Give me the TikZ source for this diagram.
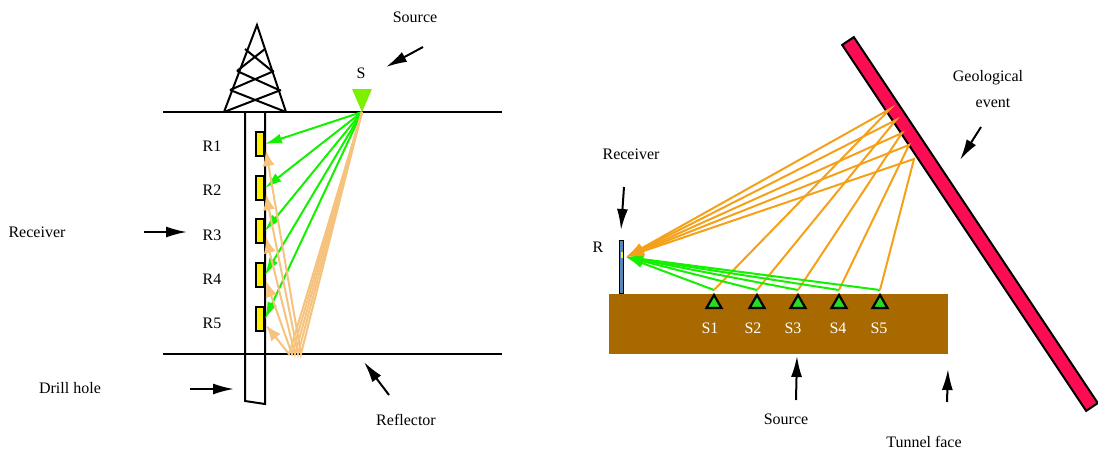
\documentclass[tikz,border=0pt]{standalone}
\usepackage{fontspec}
\setmainfont{Liberation Serif}
\usetikzlibrary{positioning,arrows.meta,calc}

\definecolor{direct}{RGB}{20,240,0}
\definecolor{bounce}{RGB}{245,195,125}
\definecolor{echo}{RGB}{245,160,25}
\definecolor{rock}{RGB}{168,106,0}
\definecolor{fault}{RGB}{252,12,82}
\definecolor{shot}{RGB}{125,240,0}
\definecolor{geo}{RGB}{35,220,35}
\definecolor{probe}{RGB}{85,135,185}

\begin{document}
\begin{tikzpicture}[
x=1pt,y=-1pt,
every node/.style={font=\fontsize{16}{18}\selectfont},
thickline/.style={line width=2pt},
pointer/.style={-{Latex[length=21pt,width=11pt]},line width=2pt},
recv/.style={draw,line width=1.8pt,fill=yellow,minimum width=8pt,minimum height=24pt,inner sep=0pt},
directray/.style={direct,line width=2pt,-{Latex[length=17pt,width=10pt]}},
bounceray/.style={bounce,line width=2pt,-{Latex[length=16pt,width=12pt]}},
echoray/.style={echo,line width=2pt,-{Latex[length=18pt,width=11pt]}},
shotmark/.style={draw,line width=2.2pt,fill=geo}
]
\useasboundingbox (0,0) rectangle (1098,450);

% ---- borehole survey ----
% derrick
\draw[thickline] (224,112) -- (257,25) -- (286,112);
\draw[thickline] (245,49) -- (272,71) (265,49) -- (237,71)
  (237,71) -- (279,90) (274,71) -- (230,90)
  (230,90) -- (286,112) (281,90) -- (224,112);

% surface, reflector and hole
\draw[thickline] (163,112) -- (502,112);
\draw[thickline] (163,354) -- (502,354);
\draw[thickline] (245,112) -- (245,401) -- (265,404) -- (265,112);

% receivers in the hole
\foreach \i/\y in {1/144,2/188,3/231,4/275,5/319}
  \node[recv] (r\i) at (260,\y) {};
\foreach \i/\y in {1/146,2/190,3/235,4/279,5/323}
  \node at (212,\y) {R\i};

% shot point
\coordinate (src) at (362,112);
\fill[shot] (352,89) -- (372,89) -- (src) -- cycle;
\node at (361,73) {S};

% direct and reflected rays
\foreach \i in {1,...,5}
  \draw[directray] (src) -- (r\i.east);
\foreach \i/\x in {1/301,2/298,3/295,4/292,5/289}{
  \coordinate (b\i) at (\x,354);
  \draw[bounceray] (src) -- (b\i) -- ($(r\i.east)+(1,6)$);
}

% labels with pointers
\node (source) at (415,17) {Source};
\coordinate (sourceA) at (423,47);
\coordinate (sourceB) at (386,67);
\draw[pointer] (sourceA) -- (sourceB);

\node (receiver) at (37,232) {Receiver};
\coordinate (receiverA) at (144,232);
\coordinate (receiverB) at (187,232);
\draw[pointer] (receiverA) -- (receiverB);

\node (drill) at (70,388) {Drill hole};
\coordinate (drillA) at (190,389);
\coordinate (drillB) at (234,389);
\draw[pointer] (drillA) -- (drillB);

\node (reflector) at (406,420) {Reflector};
\coordinate (reflectorA) at (389,395);
\coordinate (reflectorB) at (364,362);
\draw[pointer] (reflectorA) -- (reflectorB);

% ---- tunnel survey ----
% tunnel body and geological event
\fill[rock] (609,294) rectangle (948,354);
\draw[thickline,fill=fault] (842.2,44.9) -- (853.8,37.1) -- (1097.8,403.1)
  -- (1086.2,410.9) -- cycle;

% receiver bar
\node[draw,line width=1.8pt,fill=probe,minimum width=4pt,minimum height=53pt,inner sep=0pt]
  (rx) at (621.5,267) {};
\fill[yellow] (621,252) rectangle (622.5,258);
\coordinate (rtip) at (626,257);
\node at (598,247) {R};

% shots along the wall
\foreach \i/\x in {1/714,2/757,3/798,4/839,5/880}{
  \coordinate (s\i) at (\x,290);
  \draw[shotmark] (\x-7.5,308) -- (\x+7.5,308) -- (\x,295) -- cycle;
}
\foreach \i/\x in {1/710,2/753,3/793,4/838,5/879}
  \node[text=white] at (\x,328) {S\i};

% reflection points on the event
\foreach \i/\x/\y in {1/890/109,2/896/120,3/902/133,4/909/145,5/914/159}
  \coordinate (e\i) at (\x,\y);

\foreach \i in {1,...,5}{
  \draw[directray] (s\i) -- (rtip);
  \draw[echoray] (s\i) -- (e\i) -- (rtip);
}

% labels with pointers
\node (geo1) at (988,78) {Geological};
\node (geo2) at (993,103) {event};
\coordinate (eventA) at (981,127);
\coordinate (eventB) at (960,160);
\draw[pointer] (eventA) -- (eventB);

\node (rxlabel) at (631,154) {Receiver};
\coordinate (rxA) at (624,187);
\coordinate (rxB) at (621,230);
\draw[pointer] (rxA) -- (rxB);

\node (tsource) at (786,419) {Source};
\coordinate (tsourceA) at (796,400);
\coordinate (tsourceB) at (797,356);
\draw[pointer] (tsourceA) -- (tsourceB);

\node (face) at (924,442) {Tunnel face};
\coordinate (faceA) at (947,402);
\coordinate (faceB) at (948,369);
\draw[pointer] (faceA) -- (faceB);

\end{tikzpicture}
\end{document}
